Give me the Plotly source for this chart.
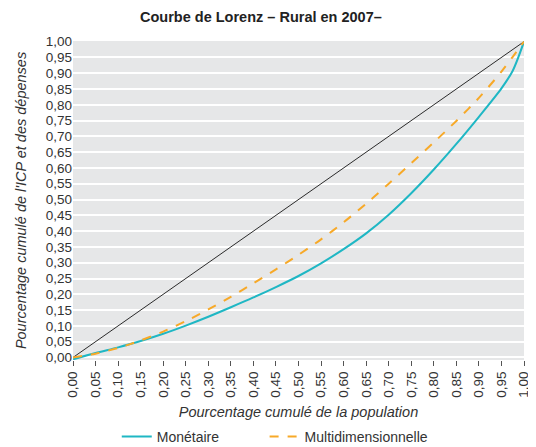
import plotly.graph_objects as go

# part cumulée de la population
population = [0.00, 0.05, 0.10, 0.15, 0.20, 0.25, 0.30, 0.35, 0.40, 0.45, 0.50,
              0.55, 0.60, 0.65, 0.70, 0.75, 0.80, 0.85, 0.90, 0.95, 0.975, 1.00]

monetaire = [-0.006, 0.014, 0.032, 0.052, 0.075, 0.101, 0.129, 0.159, 0.190, 0.223, 0.258,
             0.298, 0.343, 0.393, 0.452, 0.520, 0.595, 0.676, 0.762, 0.852, 0.908, 1.00]

multidim = [0.000, 0.012, 0.030, 0.054, 0.082, 0.115, 0.152, 0.192, 0.235, 0.279, 0.325,
            0.374, 0.428, 0.487, 0.550, 0.615, 0.681, 0.749, 0.822, 0.905, 0.952, 1.00]

egalite_x = [0, 1]
egalite_y = [0, 1]

ticks = [i / 20 for i in range(21)]

FONT = "Liberation Sans, Arial, sans-serif"

fig = go.Figure()
fig.add_trace(go.Scatter(x=egalite_x, y=egalite_y, mode="lines",
                         line=dict(color="#2b2b2b", width=1), showlegend=False,
                         hoverinfo="skip"))
fig.add_trace(go.Scatter(x=population, y=monetaire, mode="lines", name="Monétaire",
                         line=dict(color="#1fb7c4", width=2, shape="spline", smoothing=0.8),
                         legend="legend"))
fig.add_trace(go.Scatter(x=population, y=multidim, mode="lines", name="Multidimensionnelle",
                         line=dict(color="#f7a928", width=2, dash="dash", shape="spline",
                                   smoothing=0.8),
                         legend="legend2"))

# la page ajoute une marge de 8 px : figure un peu plus petite que la fenêtre
fig.update_layout(
    width=528, height=439,
    margin=dict(l=65, r=12, t=33, b=87),
    separators=", ",
    paper_bgcolor="white",
    plot_bgcolor="#e6e7e8",
    font=dict(family=FONT, size=13.5, color="#333333"),
    title=dict(text="<b>Courbe de Lorenz – Rural en 2007–</b>", x=0.479, xanchor="center",
               y=0.98, yanchor="middle", font=dict(size=14.5, color="#222222")),
    legend=dict(orientation="h", x=0.206, xref="container", xanchor="left",
                y=0.0228, yref="container", yanchor="middle", font=dict(size=14)),
    legend2=dict(orientation="h", x=0.486, xref="container", xanchor="left",
                 y=0.0228, yref="container", yanchor="middle", font=dict(size=14)),
)
fig.update_xaxes(
    range=[0, 1], tickvals=ticks, tickformat=".2f", tickangle=-90,
    showgrid=False, zeroline=False, showline=False, automargin=False,
    ticks="outside", ticklen=5, tickcolor="#555555",
    title=dict(text="<i>Pourcentage cumulé de la population</i>", standoff=10,
               font=dict(size=14.5)),
)
fig.update_yaxes(
    range=[-0.008, 1.002], tickvals=ticks, tickformat=".2f",
    showgrid=True, gridcolor="white", gridwidth=1.5, zeroline=False, showline=False,
    ticks="", automargin=False,
    title=dict(text="<i>Pourcentage cumulé de l'ICP et des dépenses</i>",
               standoff=15, font=dict(size=14.5)),
)

fig.write_html("out.html")
